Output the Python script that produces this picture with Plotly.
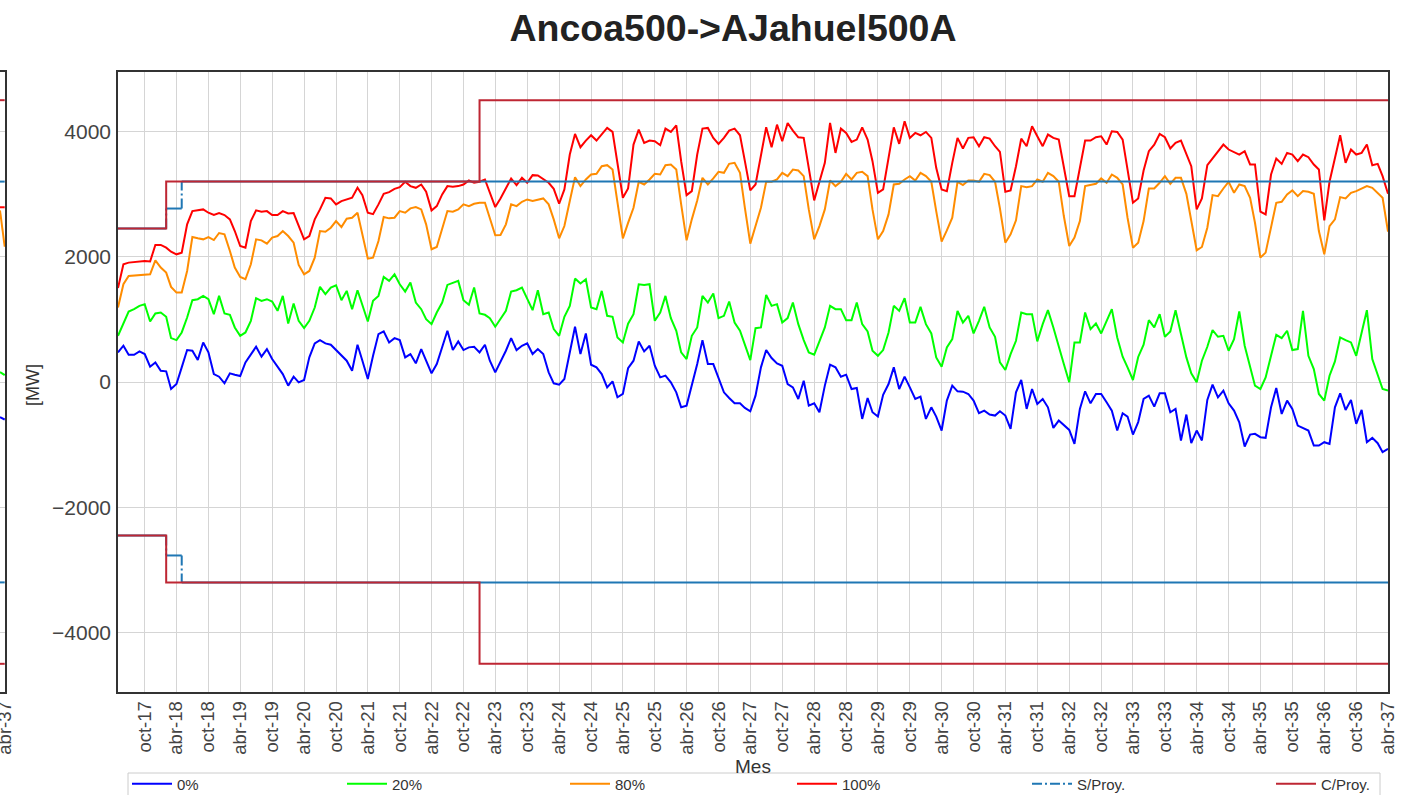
import plotly.graph_objects as go
import pandas as pd

# ---------------- data ----------------
months = pd.date_range("2017-05-01", periods=240, freq="MS")

p100 = [1500, 1880, 1906, 1917, 1917, 1933, 1925, 2188, 2188, 2145, 2081, 2039, 2066, 2517, 2729, 2740, 2756, 2703, 2666, 2697,
        2666, 2597, 2411, 2172, 2145, 2570, 2740, 2719, 2729, 2666, 2666, 2729, 2692, 2697, 2490, 2278, 2331, 2597, 2756, 2942,
        2931, 2836, 2889, 2915, 2942, 3101, 2984, 2703, 2680,
        2836, 3006, 3032, 3085, 3112, 3197, 3128, 3101, 3154, 3038, 2740, 2809, 2995, 3128, 3117, 3128, 3154, 3218, 3181, 3197,
        3234, 3022, 2793, 2931, 3091, 3250, 3144, 3261, 3181, 3303, 3298, 3234, 3181, 3085, 2846, 3075, 3632, 3961, 3749, 3855,
        3940, 3855, 3961, 4057, 3993, 3473, 2942, 3090,
        3791, 4030, 3818, 3855, 3844, 3781, 4046, 3993, 4099, 3525, 2984, 3048, 3632, 4046, 4057, 3898, 3802, 3898, 4014, 4046,
        3940, 3526, 3059, 3154, 3632, 4067, 3749, 4110, 3844, 4136, 4014, 3908, 3898, 3420, 2899, 3197, 3499, 4136, 3658, 4046,
        3977, 3834, 3871, 4067, 3871, 3526, 3021, 3075,
        3552, 4067, 3802, 4163, 3898, 3977, 3940, 3993, 3898, 3420, 3075, 3048, 3499, 3898, 3728, 3898, 3908, 3765, 3908, 3887,
        3765, 3675, 3037, 3059, 3446, 3887, 3765, 4083, 3924, 3765, 3951, 3898, 3871, 3446, 2968, 2968, 3420, 3855, 3855, 3908,
        3924, 3791, 4004, 3993, 3871, 3367, 2862, 2930,
        3377, 3685, 3791, 3961, 3908, 3728, 3818, 3855, 3643, 3446, 2756, 2931, 3462, 3568, 3675, 3791, 3712, 3675, 3632, 3685,
        3473, 3473, 2719, 2676, 3313, 3568, 3483, 3659, 3632, 3526, 3632, 3590, 3473, 3393, 2581, 3197, 3552, 3940, 3499, 3712,
        3632, 3659, 3791, 3462, 3483, 3287, 3005]

p80 = [1190, 1561, 1694, 1700, 1710, 1720, 1720, 1943, 1827, 1747, 1519, 1428, 1428, 1773, 2315, 2294, 2278, 2315, 2267, 2379,
       2358, 2092, 1827, 1678, 1641, 1880, 2278, 2262, 2209, 2305, 2331, 2411, 2331, 2225, 1869, 1720, 1773, 1986, 2411, 2400,
       2464, 2570, 2474, 2607, 2623, 2703, 2358, 1970, 1986,
       2252, 2634, 2613, 2623, 2729, 2703, 2772, 2793, 2756, 2517, 2119, 2156, 2464, 2729, 2719, 2756, 2836, 2809, 2846, 2862,
       2862, 2597, 2342, 2347, 2517, 2836, 2809, 2878, 2915, 2889, 2915, 2931, 2836, 2597, 2294, 2490, 2889, 3271, 3128, 3234,
       3314, 3324, 3446, 3462, 3393, 2889, 2294, 2540,
       2782, 3197, 3154, 3234, 3324, 3313, 3462, 3473, 3393, 2836, 2262, 2597, 2899, 3260, 3154, 3250, 3356, 3340, 3483, 3499,
       3340, 2782, 2209, 2490, 2782, 3197, 3197, 3234, 3340, 3287, 3393, 3377, 3287, 2756, 2278, 2490, 2756, 3218, 3128, 3197,
       3324, 3234, 3340, 3356, 3287, 2756, 2278, 2411,
       2676, 3154, 3165, 3234, 3287, 3218, 3340, 3287, 3197, 2729, 2241, 2421, 2623, 3197, 3144, 3218, 3218, 3197, 3324, 3303,
       3197, 2772, 2225, 2358, 2581, 3128, 3112, 3128, 3234, 3197, 3340, 3287, 3197, 2650, 2172, 2305, 2570, 3128, 3144, 3165,
       3250, 3181, 3313, 3260, 3154, 2623, 2145, 2225,
       2570, 3090, 3090, 3181, 3287, 3165, 3260, 3260, 3005, 2597, 2103, 2156, 2464, 2984, 2968, 3090, 3197, 3021, 3154, 3128,
       2942, 2543, 1986, 2066, 2464, 2862, 2878, 2995, 3059, 2968, 3048, 3037, 3005, 2411, 2039, 2490, 2597, 2952, 2931, 3021,
       3048, 3090, 3128, 3101, 3021, 2942, 2400]

p20 = [738, 924, 1126, 1163, 1216, 1243, 966, 1094, 1110, 1041, 701, 669, 791, 1030, 1306, 1322, 1375, 1322, 1083, 1375,
       1094, 1073, 871, 738, 791, 977, 1338, 1296, 1322, 1285, 1136, 1375, 935, 1253, 977, 860, 977, 1189, 1519, 1402,
       1508, 1545, 1306, 1455, 1163, 1466, 1243, 966, 1296,
       1375, 1678, 1614, 1720, 1561, 1444, 1588, 1269, 1163, 1004, 924, 1110, 1269, 1550, 1588, 1614, 1306, 1232, 1508, 1094,
       1073, 1020, 882, 1004, 1136, 1444, 1466, 1508, 1322, 1147, 1466, 1083, 1110, 845, 738, 1041, 1216, 1651, 1572, 1641,
       1189, 1163, 1455, 1057, 1041, 712, 632, 930,
       1083, 1561, 1550, 1561, 977, 1110, 1375, 1020, 818, 473, 366, 738, 871, 1375, 1269, 1412, 1020, 1057, 1285, 950,
       818, 579, 350, 860, 871, 1391, 1216, 1243, 950, 1020, 1269, 924, 669, 473, 435, 648, 871, 1216, 1163, 1163,
       988, 988, 1269, 924, 807, 499, 419, 510,
       791, 1216, 1136, 1338, 950, 950, 1200, 924, 775, 393, 244, 552, 685, 1136, 950, 1057, 775, 977, 1200, 871,
       722, 313, 191, 446, 658, 1110, 1083, 1083, 648, 924, 1147, 871, 552, 287, -5, 632, 632, 1110, 844, 935,
       775, 977, 1163, 712, 404, 234, 32, 400,
       595, 988, 871, 1083, 722, 807, 1147, 765, 393, 138, -5, 340, 563, 828, 722, 738, 499, 685, 1126, 579,
       260, -58, -112, 74, 419, 754, 701, 818, 510, 526, 1136, 419, 207, -191, -297, 101, 329, 712, 669, 632,
       419, 765, 1147, 366, 101, -112, -138]

p0 = [473, 579, 435, 435, 489, 446, 244, 313, 180, 170, -112, -32, 234, 510, 499, 350, 632, 473, 127, 85,
      -21, 138, 117, 96, 313, 446, 563, 404, 526, 366, 234, 127, -58, 85, -5, 32, 393, 616, 669, 616,
      595, 510, 420, 340, 180, 595, 340, 48, 420,
      765, 808, 632, 701, 669, 393, 446, 298, 526, 340, 138, 287, 553, 818, 510, 648, 510, 553, 563, 473,
      595, 340, 154, 313, 499, 701, 510, 579, 616, 446, 526, 446, 154, -21, -42, 48, 473, 882, 446, 776,
      276, 234, 127, -85, 11, -244, -191, 220,
      340, 648, 489, 579, 260, 74, 101, -5, -165, -404, -377, -58, 287, 669, 287, 287, 74, -165, -255, -340,
      -340, -414, -467, -218, 234, 510, 382, 297, 260, -32, -85, -271, 21, -377, -340, -483, -58, 276, 234, 85,
      117, -112, -96, -589, -255, -483, -552, -205,
      -32, 234, -112, 85, -85, -271, -234, -589, -404, -552, -775, -297, -58, -149, -154, -191, -297, -499, -457, -520,
      -536, -467, -536, -749, -165, 32, -430, -112, -350, -271, -404, -733, -616, -696, -765, -988, -430, -149, -340, -191,
      -191, -324, -457, -775, -499, -552, -839, -640,
      -271, -218, -393, -181, -181, -483, -430, -934, -520, -977, -775, -934, -287, -42, -244, -138, -340, -457, -643, -1030,
      -839, -828, -881, -892, -404, -96, -510, -297, -430, -696, -733, -775, -1014, -1014, -961, -988, -404, -181, -446, -287,
      -669, -446, -961, -892, -977, -1120, -1067]

for s in (p0, p20, p80, p100):
    assert len(s) == len(months), len(s)

# transfer limits (step changes)
s_proy_dates = ["2017-05-01", "2018-02-01", "2018-05-01", "2037-04-01"]
s_proy_vals = [2450, 2770, 3200, 3200]
c_proy_dates = ["2017-05-01", "2018-02-01", "2023-01-01", "2037-04-01"]
c_proy_vals = [2450, 3200, 4500, 4500]

# small cut-off panel at the far left (end of a neighbouring chart)
mini_dates = ["2037-03-01", "2037-04-01"]
mini_p0 = [-560, -600]
mini_p20 = [160, 110]
mini_p80 = [2740, 2160]
mini_p100 = [2790, 2790]
mini_s = [3200, 3200]
mini_c = [4500, 4500]

tick_dates = pd.date_range("2017-10-01", "2037-04-01", freq="6MS")
tick_text = ["oct-17", "abr-18", "oct-18", "abr-19", "oct-19", "abr-20", "oct-20", "abr-21", "oct-21", "abr-22",
             "oct-22", "abr-23", "oct-23", "abr-24", "oct-24", "abr-25", "oct-25", "abr-26", "oct-26", "abr-27",
             "oct-27", "abr-28", "oct-28", "abr-29", "oct-29", "abr-30", "oct-30", "abr-31", "oct-31", "abr-32",
             "oct-32", "abr-33", "oct-33", "abr-34", "oct-34", "abr-35", "oct-35", "abr-36", "oct-36", "abr-37"]
y_ticks = [-4000, -2000, 0, 2000, 4000]

# ---------------- styling ----------------
W, H = 1419, 795
ML, MR, MT, MB = 0, 31, 72, 103
PW, PH = W - ML - MR, H - MT - MB
FONT = "Liberation Sans, Arial, sans-serif"
COL = {"0%": "#0000FF", "20%": "#00FF00", "80%": "#FF8C00", "100%": "#FF0000",
       "S/Proy.": "#1F77B4", "C/Proy.": "#BE2633"}
GRID = "#D5D5D5"
FRAME = "#333333"


def fx(px):
    return (px - ML) / PW


def fy(py):
    return (MT + PH - py) / PH


fig = go.Figure()

series = [("0%", p0, "legend"), ("20%", p20, "legend2"), ("80%", p80, "legend3"), ("100%", p100, "legend4")]
for name, vals, lg in series:
    fig.add_trace(go.Scatter(x=months, y=vals, mode="lines", name=name, legend=lg,
                             line=dict(color=COL[name], width=2)))


def horiz_segments(dates, vals, sign):
    xs, ys = [], []
    for i in range(len(dates) - 1):
        xs += [dates[i], dates[i + 1], None]
        ys += [sign * vals[i], sign * vals[i], None]
    return xs, ys


def vert_segments(dates, vals, sign):
    xs, ys = [], []
    for i in range(1, len(dates) - 1):
        xs += [dates[i], dates[i], None]
        ys += [sign * vals[i - 1], sign * vals[i], None]
    return xs, ys


for sign in (1, -1):
    vx, vy = vert_segments(s_proy_dates, s_proy_vals, sign)
    fig.add_trace(go.Scatter(x=vx, y=vy, mode="lines",
                             name="S/Proy.", legend="legend5", legendgroup="s", showlegend=(sign == 1),
                             line=dict(color=COL["S/Proy."], width=2, dash="10px,3px,2px,3px")))
    hx, hy = horiz_segments(s_proy_dates, s_proy_vals, sign)
    fig.add_trace(go.Scatter(x=hx, y=hy, mode="lines", showlegend=False, hoverinfo="skip",
                             line=dict(color=COL["S/Proy."], width=2)))
for sign in (1, -1):
    fig.add_trace(go.Scatter(x=c_proy_dates, y=[sign * v for v in c_proy_vals], mode="lines",
                             name="C/Proy.", legend="legend6", legendgroup="c", showlegend=(sign == 1),
                             line=dict(color=COL["C/Proy."], width=2, shape="hv")))

# mini panel traces
for vals, c in [(mini_p0, COL["0%"]), (mini_p20, COL["20%"]), (mini_p80, COL["80%"]), (mini_p100, COL["100%"]),
                (mini_s, COL["S/Proy."]), ([-v for v in mini_s], COL["S/Proy."]),
                (mini_c, COL["C/Proy."]), ([-v for v in mini_c], COL["C/Proy."])]:
    fig.add_trace(go.Scatter(x=mini_dates, y=vals, mode="lines", showlegend=False, xaxis="x2", yaxis="y2",
                             line=dict(color=c, width=2)))

axis_common = dict(showgrid=True, gridcolor=GRID, gridwidth=1, zeroline=False, showline=True,
                   linecolor=FRAME, linewidth=1.6, ticks="")

legend_common = dict(orientation="h", xanchor="left", yanchor="middle", bgcolor="rgba(0,0,0,0)",
                     borderwidth=0, font=dict(family=FONT, size=15, color="#333333"), itemwidth=40)
line_starts = [132, 347, 570, 797, 1032, 1276]
legends = {}
for i, ls in enumerate(line_starts):
    key = "legend" if i == 0 else f"legend{i + 1}"
    legends[key] = dict(legend_common, x=fx(ls - 5), y=fy(784))

fig.update_layout(
    width=W, height=H,
    margin=dict(l=ML, r=MR, t=MT, b=MB, autoexpand=False),
    paper_bgcolor="white", plot_bgcolor="white",
    font=dict(family=FONT, color="#444444"),
    title=dict(text="<b>Ancoa500->AJahuel500A</b>", x=733 / W, xanchor="center", xref="container",
               y=1 - 28 / H, yanchor="middle", yref="container",
               font=dict(family=FONT, size=37.5, color="#222222")),
    xaxis=dict(axis_common, domain=[fx(118), 1], type="date", range=[months[0], months[-1]],
               tickmode="array", tickvals=list(tick_dates), ticktext=tick_text, tickangle=-90,
               tickfont=dict(family=FONT, size=18.5, color="#444444"), mirror=True),
    yaxis=dict(axis_common, range=[-4950, 4950], tickmode="array", tickvals=y_ticks,
               tickfont=dict(family=FONT, size=21, color="#444444"), mirror=True, ticklabelstandoff=1),
    xaxis2=dict(axis_common, domain=[0, fx(5)], anchor="y2", type="date",
                range=["2037-03-01", "2037-04-03"], ticklabeloverflow="allow",
                tickmode="array", tickvals=[mini_dates[-1]], ticktext=["abr-37"], tickangle=-90,
                tickfont=dict(family=FONT, size=18.5, color="#444444"), mirror=True),
    yaxis2=dict(axis_common, anchor="x2", side="right", range=[-4950, 4950], tickmode="array",
                tickvals=y_ticks, showticklabels=False, mirror=False),
    showlegend=True,
    **legends,
)

# legend frame
fig.add_shape(type="rect", xref="paper", yref="paper", x0=fx(128), x1=fx(1380), y0=fy(773), y1=fy(815),
              line=dict(color="#CCCCCC", width=1), fillcolor="rgba(255,255,255,0.85)", layer="above")

# axis titles
fig.add_annotation(text="[MW]", xref="paper", yref="paper", x=fx(33), y=fy(385), showarrow=False,
                   xanchor="center", yanchor="middle",
                   textangle=-90, font=dict(family=FONT, size=18, color="#333333"))
fig.add_annotation(text="Mes", xref="paper", yref="paper", x=fx(753), y=fy(766), showarrow=False,
                   xanchor="center", yanchor="middle",
                   font=dict(family=FONT, size=19, color="#333333"))

fig.write_html("out.html", config={"displayModeBar": False},
               post_script="document.body.style.margin='0';")
